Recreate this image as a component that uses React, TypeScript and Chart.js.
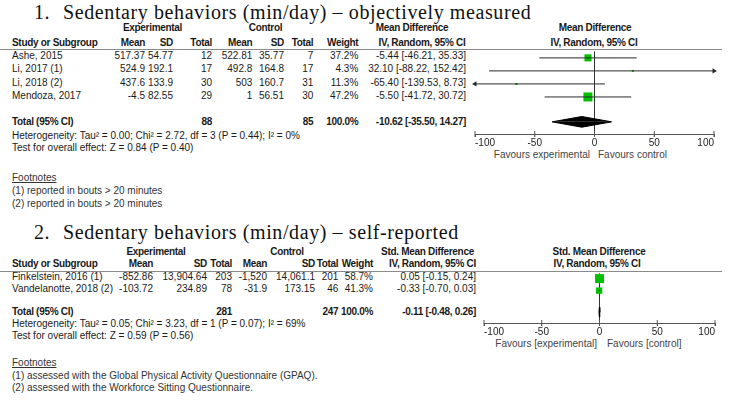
import React, { useEffect, useRef } from 'react';
import { Chart, registerables } from 'chart.js';

Chart.register(...registerables);

// ---------- data ----------
const axisTicks = [-100, -50, 0, 50, 100];

// Section 1 — objectively measured (Mean Difference)
const studies1 = ['Ashe, 2015', 'Li, 2017 (1)', 'Li, 2018 (2)', 'Mendoza, 2017'];
const expMean1 = [517.37, 524.9, 437.6, -4.5];
const expSD1 = [54.77, 192.1, 133.9, 82.55];
const expN1 = [12, 17, 30, 29];
const ctlMean1 = [522.81, 492.8, 503, 1];
const ctlSD1 = [35.77, 164.8, 160.7, 56.51];
const ctlN1 = [7, 17, 31, 30];
const weight1 = [37.2, 4.3, 11.3, 47.2];
const md1 = [-5.44, 32.1, -65.4, -5.5];
const lo1 = [-46.21, -88.22, -139.53, -41.72];
const hi1 = [35.33, 152.42, 8.73, 30.72];
const totalN1 = [88, 85];
const totalMD1 = [-10.62, -35.5, 14.27];
const het1 = 'Heterogeneity: Tau² = 0.00; Chi² = 2.72, df = 3 (P = 0.44); I² = 0%';
const test1 = 'Test for overall effect: Z = 0.84 (P = 0.40)';
const notes1 = ['(1) reported in bouts > 20 minutes', '(2) reported in bouts > 20 minutes'];

// Section 2 — self-reported (Std. Mean Difference)
const studies2 = ['Finkelstein, 2016 (1)', 'Vandelanotte, 2018 (2)'];
const expMean2 = [-852.86, -103.72];
const expSD2 = [13904.64, 234.89];
const expN2 = [203, 78];
const ctlMean2 = [-1520, -31.9];
const ctlSD2 = [14061.1, 173.15];
const ctlN2 = [201, 46];
const weight2 = [58.7, 41.3];
const smd2 = [0.05, -0.33];
const lo2 = [-0.15, -0.7];
const hi2 = [0.24, 0.03];
const totalN2 = [281, 247];
const totalSMD2 = [-0.11, -0.48, 0.26];
const het2 = 'Heterogeneity: Tau² = 0.05; Chi² = 3.23, df = 1 (P = 0.07); I² = 69%';
const test2 = 'Test for overall effect: Z = 0.59 (P = 0.56)';
const notes2 = [
  '(1) assessed with the Global Physical Activity Questionnaire (GPAQ).',
  '(2) assessed with the Workforce Sitting Questionnaire.',
];

// ---------- helpers ----------
const fmt = (v: number) => v.toLocaleString('en-US', { maximumFractionDigits: 2 });
const ci = (e: number, l: number, h: number) => `${e.toFixed(2)} [${l.toFixed(2)}, ${h.toFixed(2)}]`;
const pct = (w: number) => `${w.toFixed(1)}%`;

const TEXT = '#1a1a1a';
const SANS = '"Liberation Sans", Arial, sans-serif';

function T(props: { x: number; y: number; a?: 'l' | 'r' | 'c'; b?: boolean; c?: string; u?: boolean; children: any }) {
  const { x, y, a = 'l', b = false, c = TEXT, u = false, children } = props;
  const style: any = {
    position: 'absolute',
    top: y - 6,
    fontSize: 10,
    lineHeight: '12px',
    fontFamily: SANS,
    fontWeight: b ? 700 : 400,
    letterSpacing: b ? '-0.3px' : '0px',
    color: c,
    whiteSpace: 'nowrap',
    textDecoration: u ? 'underline' : 'none',
  };
  if (a === 'l') style.left = x;
  else if (a === 'r') { style.left = x - 400; style.width = 400; style.textAlign = 'right'; }
  else { style.left = x - 200; style.width = 400; style.textAlign = 'center'; }
  return <div style={style}>{children}</div>;
}

function Title(props: { num: string; text: string; baseline: number }) {
  const base: any = {
    position: 'absolute',
    top: props.baseline - 16.75,
    fontFamily: '"Liberation Serif", "Times New Roman", serif',
    fontSize: 20,
    lineHeight: '20px',
    color: '#111',
    whiteSpace: 'nowrap',
    letterSpacing: '0.6px',
  };
  return (
    <>
      <div style={{ ...base, left: 34 }}>{props.num}</div>
      <div style={{ ...base, left: 63 }}>{props.text}</div>
    </>
  );
}

type ForestProps = {
  left: number; top: number; width: number; height: number;
  padL: number; padR: number; padT: number; axisH: number;
  yMin: number; yMax: number;
  est: number[]; lo: number[]; hi: number[]; weights: number[];
  tot: number[]; totRow: number; diamondH: number; maxSide: number;
};

function Forest(p: ForestProps) {
  const ref = useRef<HTMLCanvasElement | null>(null);
  useEffect(() => {
    if (!ref.current) return;
    const xMin = axisTicks[0];
    const xMax = axisTicks[axisTicks.length - 1];
    const maxW = Math.max(...p.weights);
    const datasets: any[] = [];
    p.est.forEach((_, i) => {
      datasets.push({
        type: 'line',
        data: [{ x: Math.max(p.lo[i], xMin), y: i }, { x: Math.min(p.hi[i], xMax), y: i }],
        borderColor: '#2a2a2a', borderWidth: 1, pointRadius: 0, fill: false, clip: false,
      });
    });
    const arrows: any[] = [];
    const rots: number[] = [];
    p.est.forEach((_, i) => {
      if (p.hi[i] > xMax) { arrows.push({ x: xMax, y: i }); rots.push(90); }
      if (p.lo[i] < xMin) { arrows.push({ x: xMin, y: i }); rots.push(-90); }
    });
    datasets.push({
      type: 'line', showLine: false, data: arrows, pointStyle: 'triangle', pointRotation: rots,
      pointRadius: 3, pointBackgroundColor: '#2a2a2a', pointBorderWidth: 0, clip: false,
    });
    datasets.push({
      type: 'line', showLine: false,
      data: p.est.map((e, i) => ({ x: e, y: i })),
      pointStyle: 'rect',
      pointRadius: p.weights.map((w) => Math.max(2, (p.maxSide * w) / maxW) / Math.SQRT2),
      pointBackgroundColor: '#00c000', pointBorderWidth: 0, clip: false,
    });
    const [te, tl, th] = p.tot;
    [-1, 1].forEach((s) => {
      datasets.push({
        type: 'line',
        data: [{ x: tl, y: p.totRow }, { x: te, y: p.totRow + s * p.diamondH }, { x: th, y: p.totRow }],
        borderColor: '#000', borderWidth: 1, backgroundColor: '#000',
        fill: { value: p.totRow }, pointRadius: 0, tension: 0, clip: false,
      });
    });
    datasets.push({
      type: 'line', showLine: false,
      data: axisTicks.map((t) => ({ x: t, y: p.yMax })),
      pointStyle: 'line', pointRotation: 90, pointRadius: 3,
      pointBorderColor: '#555', pointBorderWidth: 1, clip: false,
    });

    const chart = new Chart(ref.current, {
      type: 'line',
      data: { datasets },
      options: {
        animation: false,
        responsive: false,
        events: [],
        layout: { padding: { left: p.padL, right: p.padR, top: p.padT, bottom: 0 } },
        plugins: { legend: { display: false }, tooltip: { enabled: false }, title: { display: false } },
        scales: {
          x: {
            type: 'linear', min: xMin, max: xMax,
            afterBuildTicks: (s: any) => { s.ticks = axisTicks.map((v) => ({ value: v })); },
            afterFit: (s: any) => { s.height = p.axisH; },
            ticks: {
              align: 'inner', padding: 0, color: '#222', maxRotation: 0, autoSkip: false,
              font: { family: SANS, size: 10 },
            },
            grid: {
              drawOnChartArea: true,
              color: (c: any) => (c.tick && c.tick.value === 0 ? '#333' : 'rgba(0,0,0,0)'),
              drawTicks: true, tickLength: 3, tickColor: '#555', lineWidth: 1,
            },
            border: { display: true, color: '#555', width: 1 },
          },
          y: { type: 'linear', reverse: true, min: p.yMin, max: p.yMax, display: false },
        },
      } as any,
    });
    return () => chart.destroy();
  }, []);
  return (
    <canvas
      ref={ref}
      width={p.width}
      height={p.height}
      style={{ position: 'absolute', left: p.left, top: p.top, width: p.width, height: p.height }}
    />
  );
}

// ---------- layout ----------
const L1 = { hdr1: 28.3, hdr2: 42.7, line: 48.5, row0: 55.7, rowH: 13.4, total: 122, het: 136, test: 148, fn: 178, fn1: 191, fn2: 204, ticksY: 155 };
const C1 = [145, 173, 212, 252.3, 284, 313.3, 358.3, 466];
const L2 = { hdr1: 252.3, hdr2: 264.3, line: 270.7, row0: 276.5, rowH: 12.6, total: 311.5, het: 324, test: 336, fn: 363, fn1: 376, fn2: 388, ticksY: 344 };
const C2 = [153, 207, 232, 267, 315, 338.3, 373, 476];

function Section(props: any) {
  const { L, C, studies, em, es, en, cm, cs, cn, w, est, lo, hi, totN, tot, het, test, notes, hdrMid, hdrMidX, hdrIVX, hdrPlotX, hdrPlotIVX, expX, ctlX, fav } = props;
  return (
    <>
      <T x={expX} y={L.hdr1} a="c" b>Experimental</T>
      <T x={ctlX} y={L.hdr1} a="c" b>Control</T>
      <T x={hdrMidX} y={L.hdr1} a="c" b>{hdrMid}</T>
      <T x={hdrPlotX} y={L.hdr1} a="c" b>{hdrMid}</T>
      <T x={12} y={L.hdr2} b>Study or Subgroup</T>
      <T x={C[0]} y={L.hdr2} a="r" b>Mean</T>
      <T x={C[1]} y={L.hdr2} a="r" b>SD</T>
      <T x={C[2]} y={L.hdr2} a="r" b>Total</T>
      <T x={C[3]} y={L.hdr2} a="r" b>Mean</T>
      <T x={C[4]} y={L.hdr2} a="r" b>SD</T>
      <T x={C[5]} y={L.hdr2} a="r" b>Total</T>
      <T x={C[6]} y={L.hdr2} a="r" b>Weight</T>
      <T x={hdrIVX} y={L.hdr2} a="c" b>IV, Random, 95% CI</T>
      <T x={hdrPlotIVX} y={L.hdr2} a="c" b>IV, Random, 95% CI</T>
      <div style={{ position: 'absolute', left: 0, top: Math.round(L.line), width: 722, height: 1, background: '#8a8a8a' }} />
      {studies.map((s: string, i: number) => {
        const y = L.row0 + i * L.rowH;
        return (
          <React.Fragment key={s}>
            <T x={12} y={y}>{s}</T>
            <T x={C[0]} y={y} a="r">{fmt(em[i])}</T>
            <T x={C[1]} y={y} a="r">{fmt(es[i])}</T>
            <T x={C[2]} y={y} a="r">{en[i]}</T>
            <T x={C[3]} y={y} a="r">{fmt(cm[i])}</T>
            <T x={C[4]} y={y} a="r">{fmt(cs[i])}</T>
            <T x={C[5]} y={y} a="r">{cn[i]}</T>
            <T x={C[6]} y={y} a="r">{pct(w[i])}</T>
            <T x={C[7]} y={y} a="r">{ci(est[i], lo[i], hi[i])}</T>
          </React.Fragment>
        );
      })}
      <T x={12} y={L.total} b>Total (95% CI)</T>
      <T x={C[2]} y={L.total} a="r" b>{totN[0]}</T>
      <T x={C[5]} y={L.total} a="r" b>{totN[1]}</T>
      <T x={C[6]} y={L.total} a="r" b>{pct(w.reduce((a: number, b: number) => a + b, 0))}</T>
      <T x={C[7]} y={L.total} a="r" b>{ci(tot[0], tot[1], tot[2])}</T>
      <T x={12} y={L.het}>{het}</T>
      <T x={12} y={L.test}>{test}</T>
      <T x={12} y={L.fn} u c="#333">Footnotes</T>
      <T x={12} y={L.fn1} c="#333">{notes[0]}</T>
      <T x={12} y={L.fn2} c="#333">{notes[1]}</T>
      <T x={fav[0]} y={L.ticksY} a="r" c="#444">{fav[2]}</T>
      <T x={fav[1]} y={L.ticksY} c="#444">{fav[3]}</T>
    </>
  );
}

export default function App() {
  return (
    <div style={{ position: 'absolute', left: 0, top: 0, width: 729, height: 402, background: '#fff', overflow: 'hidden' }}>
      <Title num="1." text="Sedentary behaviors (min/day) – objectively measured" baseline={18.3} />
      <Section
        L={L1} C={C1} studies={studies1} em={expMean1} es={expSD1} en={expN1} cm={ctlMean1} cs={ctlSD1} cn={ctlN1}
        w={weight1} est={md1} lo={lo1} hi={hi1} totN={totalN1} tot={totalMD1} het={het1} test={test1} notes={notes1}
        hdrMid="Mean Difference" hdrMidX={412} hdrIVX={422} hdrPlotX={595} hdrPlotIVX={594} expX={152.5} ctlX={265.5}
        fav={[590, 598, 'Favours experimental', 'Favours control']}
      />
      <Forest
        left={465} top={45} width={260} height={107} padL={10} padR={11} padT={4} axisH={18}
        yMin={-0.5} yMax={(134 - L1.row0) / L1.rowH}
        est={md1} lo={lo1} hi={hi1} weights={weight1} tot={totalMD1}
        totRow={(121.5 - L1.row0) / L1.rowH} diamondH={0.41} maxSide={9}
      />
      <Title num="2." text="Sedentary behaviors (min/day) – self-reported" baseline={238.3} />
      <Section
        L={L2} C={C2} studies={studies2} em={expMean2} es={expSD2} en={expN2} cm={ctlMean2} cs={ctlSD2} cn={ctlN2}
        w={weight2} est={smd2} lo={lo2} hi={hi2} totN={totalN2} tot={totalSMD2} het={het2} test={test2} notes={notes2}
        hdrMid="Std. Mean Difference" hdrMidX={427.5} hdrIVX={432.5} hdrPlotX={599} hdrPlotIVX={597} expX={156} ctlX={287}
        fav={[597, 607, 'Favours [experimental]', 'Favours [control]']}
      />
      <Forest
        left={474} top={267} width={251} height={74} padL={10} padR={10} padT={4} axisH={18}
        yMin={(271 - L2.row0) / L2.rowH} yMax={(323 - L2.row0) / L2.rowH}
        est={smd2} lo={lo2} hi={hi2} weights={weight2} tot={totalSMD2}
        totRow={(311.7 - L2.row0) / L2.rowH} diamondH={0.4} maxSide={9}
      />
    </div>
  );
}
